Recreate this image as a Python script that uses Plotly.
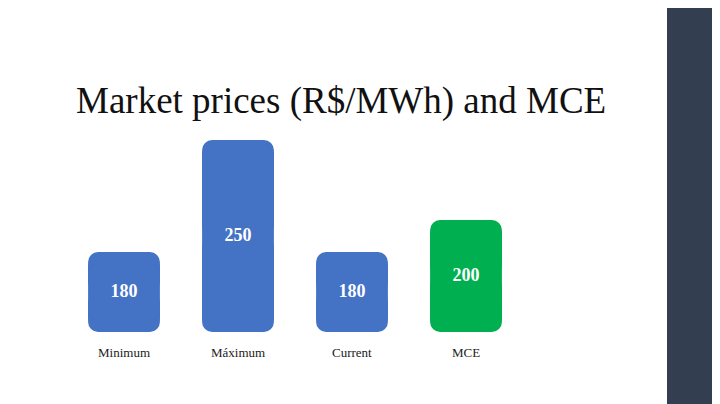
import plotly.graph_objects as go

categories = ["Minimum", "Máximum", "Current", "MCE"]
values = [180, 250, 180, 200]
colors = ["#4472c4", "#4472c4", "#4472c4", "#00b050"]
base = 130

mids = [(base + v) / 2 for v in values]
half = [(v - base) / 2 for v in values]
xs = list(range(len(categories)))
pad = 8

fig = go.Figure()
fig.add_bar(x=xs, y=half, base=mids, marker=dict(color=colors, cornerradius=10, line_width=0),
            width=0.63, hoverinfo="skip")
fig.add_bar(x=xs, y=[-h for h in half], base=mids, marker=dict(color=colors, cornerradius=10, line_width=0),
            width=0.63, hoverinfo="skip")
fig.add_bar(x=xs, y=[v - base - 2 * pad for v in values], base=[base + pad] * len(values),
            marker=dict(color=colors, line_width=0), width=0.63, hoverinfo="skip")
fig.add_scatter(x=xs, y=mids, mode="text", text=[str(v) for v in values],
                textfont=dict(family="Liberation Serif", size=18, color="white", weight="bold"))
for i, c in enumerate(categories):
    fig.add_annotation(x=i, y=117.5, text=c, showarrow=False,
                       font=dict(family="Liberation Serif", size=13, color="#222"))
fig.add_annotation(x=(341 - 8) / 712, y=1 - (78 - 8) / 396, xref="paper", yref="paper",
                   text="Market prices (R$/MWh) and MCE",
                   showarrow=False, font=dict(family="Liberation Serif", size=37, color="#111"))
fig.add_shape(type="rect", xref="paper", yref="paper", x0=(667 - 8) / 712, x1=1.02, y0=-0.03, y1=1,
              fillcolor="#333f50", line_width=0, layer="below")
fig.update_layout(width=712, height=396, margin=dict(l=0, r=0, t=0, b=0),
                  barmode="overlay", showlegend=False, plot_bgcolor="white", paper_bgcolor="white",
                  xaxis=dict(range=[(8 - 124) / 114, 596 / 114], visible=False),
                  yaxis=dict(range=[85, 332.5], visible=False))
fig.write_html("out.html")
